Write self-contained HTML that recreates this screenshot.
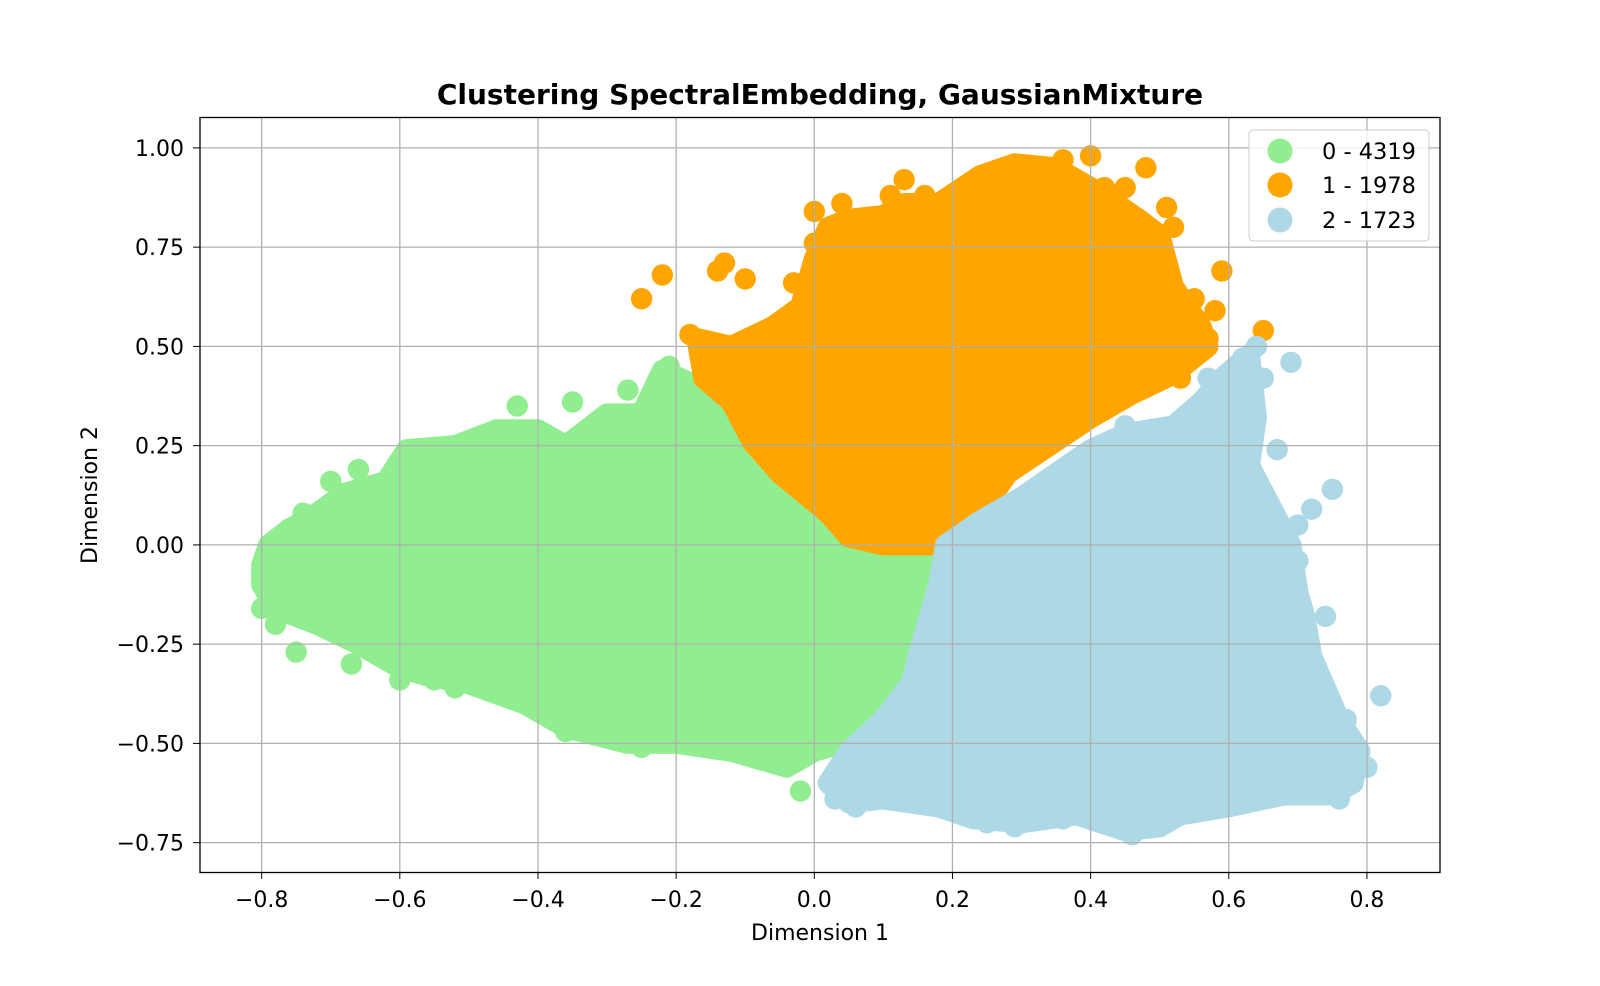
<!DOCTYPE html>
<html><head><meta charset="utf-8"><style>
body{margin:0;background:#fff;}
svg text{font-family:"DejaVu Sans","Liberation Sans",sans-serif;}
</style></head><body>
<svg id="chart" width="1600" height="981" xmlns="http://www.w3.org/2000/svg">
<text x="820" y="104" text-anchor="middle" font-size="28" font-weight="bold">Clustering SpectralEmbedding, GaussianMixture</text>
<g id="marks"></g>
<g id="grid"></g>
<rect x="200" y="117.5" width="1240" height="755" fill="none" stroke="#000" stroke-width="1.3"/>
<g id="ticks"></g>
<text x="820" y="940" text-anchor="middle" font-size="22">Dimension 1</text>
<text transform="translate(97,495) rotate(-90)" text-anchor="middle" font-size="22">Dimension 2</text>
<g>
<rect x="1249" y="130" width="180" height="111" rx="4" fill="#fff" fill-opacity="0.8" stroke="#ccc"/>
<circle cx="1280" cy="151" r="12.5" fill="#90ee90"/><text x="1322" y="159" font-size="22.5">0 - 4319</text>
<circle cx="1280" cy="185" r="12.5" fill="#ffa500"/><text x="1322" y="193" font-size="22.5">1 - 1978</text>
<circle cx="1280" cy="220" r="12.5" fill="#add8e6"/><text x="1322" y="228" font-size="22.5">2 - 1723</text>
</g>
</svg>
<script>
const xTicks=[-0.8,-0.6,-0.4,-0.2,0.0,0.2,0.4,0.6,0.8];
const xTickLabels=["−0.8","−0.6","−0.4","−0.2","0.0","0.2","0.4","0.6","0.8"];
const yTicks=[-0.75,-0.5,-0.25,0,0.25,0.5,0.75,1.0];
const yTickLabels=["−0.75","−0.50","−0.25","0.00","0.25","0.50","0.75","1.00"];
const clusterNames=["cluster-0","cluster-1","cluster-2"];
const clusterColors=["#90ee90","#ffa500","#add8e6"];
const hull0=[[-0.80,-0.05],[-0.79,0.0],[-0.76,0.04],[-0.72,0.08],[-0.68,0.13],[-0.62,0.16],[-0.59,0.24],[-0.52,0.25],[-0.46,0.29],[-0.40,0.29],[-0.36,0.25],[-0.30,0.33],[-0.25,0.33],[-0.22,0.44],[-0.17,0.40],[-0.12,0.30],[-0.06,0.20],[0.0,0.12],[0.05,0.06],[0.10,0.02],[0.17,0.0],[0.18,-0.1],[0.16,-0.25],[0.13,-0.38],[0.08,-0.48],[0.0,-0.52],[-0.04,-0.56],[-0.12,-0.52],[-0.2,-0.50],[-0.27,-0.50],[-0.36,-0.46],[-0.42,-0.40],[-0.5,-0.35],[-0.56,-0.33],[-0.6,-0.31],[-0.66,-0.25],[-0.72,-0.20],[-0.78,-0.16],[-0.80,-0.10]];
const hull1=[[-0.17,0.52],[-0.12,0.5],[-0.06,0.55],[-0.02,0.60],[0.0,0.72],[0.02,0.80],[0.05,0.82],[0.1,0.83],[0.13,0.86],[0.18,0.86],[0.24,0.93],[0.29,0.96],[0.35,0.95],[0.38,0.92],[0.42,0.88],[0.47,0.82],[0.50,0.78],[0.52,0.65],[0.56,0.55],[0.57,0.5],[0.52,0.43],[0.46,0.38],[0.40,0.32],[0.34,0.25],[0.28,0.18],[0.24,0.08],[0.17,0.0],[0.1,0.0],[0.05,0.02],[0.02,0.08],[-0.05,0.18],[-0.09,0.26],[-0.12,0.36],[-0.16,0.42]];
const hull2=[[0.19,0.0],[0.24,0.06],[0.30,0.12],[0.35,0.18],[0.40,0.24],[0.45,0.28],[0.52,0.3],[0.56,0.36],[0.59,0.42],[0.63,0.48],[0.64,0.32],[0.63,0.2],[0.66,0.1],[0.69,0.0],[0.70,-0.12],[0.71,-0.18],[0.72,-0.28],[0.74,-0.36],[0.76,-0.44],[0.79,-0.52],[0.78,-0.6],[0.75,-0.63],[0.68,-0.63],[0.6,-0.66],[0.53,-0.68],[0.5,-0.71],[0.45,-0.72],[0.38,-0.68],[0.3,-0.7],[0.23,-0.69],[0.18,-0.66],[0.1,-0.64],[0.05,-0.65],[0.02,-0.6],[0.05,-0.52],[0.1,-0.44],[0.14,-0.35],[0.16,-0.22],[0.18,-0.1]];
const points0=[[-0.80,-0.16],[-0.78,-0.2],[-0.75,-0.27],[-0.6,-0.34],[-0.55,-0.34],[-0.52,-0.36],[-0.25,-0.51],[-0.02,-0.62],[-0.35,0.36],[-0.43,0.35],[-0.66,0.19],[-0.7,0.16],[-0.76,0.04],[-0.74,0.08],[-0.27,0.39],[-0.21,0.45],[-0.67,-0.3],[-0.36,-0.47],[-0.08,-0.52]];
const points1=[[-0.25,0.62],[-0.22,0.68],[-0.13,0.71],[-0.14,0.69],[-0.1,0.67],[-0.03,0.66],[0.48,0.95],[0.40,0.98],[0.59,0.69],[0.65,0.54],[0.51,0.85],[0.04,0.86],[0.13,0.92],[0.16,0.88],[-0.18,0.53],[0.11,0.88],[0.36,0.97],[0.45,0.9],[0.42,0.9],[0.52,0.8],[0.55,0.62],[0.58,0.59],[0.57,0.52],[0.53,0.42],[-0.06,0.55],[0.0,0.76],[0.0,0.84],[0.03,0.63],[0.08,0.78],[0.5,0.65]];
const points2=[[0.82,-0.38],[0.75,0.14],[0.72,0.09],[0.69,0.46],[0.64,0.5],[0.67,0.24],[0.80,-0.56],[0.76,-0.64],[0.46,-0.73],[0.50,-0.71],[0.29,-0.71],[0.61,0.31],[0.7,-0.04],[0.7,0.05],[0.74,-0.18],[0.77,-0.44],[0.62,0.47],[0.65,0.42],[0.45,0.3],[0.57,0.42],[0.25,-0.7],[0.36,-0.69],[0.64,-0.63],[0.03,-0.64],[0.06,-0.66]];
const hulls=[hull0,hull1,hull2];
const pts=[points0,points1,points2];
const X0=814.3,XS=690.8,Y0=544.9,YS=397;
function sx(v){return X0+v*XS;}
function sy(v){return Y0-v*YS;}
const NS="http://www.w3.org/2000/svg";
const marks=document.getElementById('marks');
for(let c=0;c<3;c++){
  const g=document.createElementNS(NS,'g');
  
  
  const p=document.createElementNS(NS,'polygon');
  
  
  p.setAttribute('points',hulls[c].map(d=>sx(d[0])+','+sy(d[1])).join(' '));
  p.setAttribute('fill',clusterColors[c]);p.setAttribute('stroke',clusterColors[c]);
  p.setAttribute('stroke-width','21');p.setAttribute('stroke-linejoin','round');
  g.appendChild(p);
  pts[c].forEach(d=>{
    const ci=document.createElementNS(NS,'circle');
    
    
    ci.setAttribute('cx',sx(d[0]));ci.setAttribute('cy',sy(d[1]));ci.setAttribute('r',10.7);
    ci.setAttribute('fill',clusterColors[c]);
    g.appendChild(ci);
  });
  marks.appendChild(g);
}
const grid=document.getElementById('grid'),ticks=document.getElementById('ticks');
xTicks.forEach((v,i)=>{
  const x=sx(v);
  const l=document.createElementNS(NS,'line');
  
  
  l.setAttribute('x1',x);l.setAttribute('x2',x);l.setAttribute('y1',117);l.setAttribute('y2',872);
  l.setAttribute('stroke','#b0b0b0');l.setAttribute('stroke-width','1.3');grid.appendChild(l);
  const t=document.createElementNS(NS,'line');
  
  
  t.setAttribute('x1',x);t.setAttribute('x2',x);t.setAttribute('y1',872);t.setAttribute('y2',879);t.setAttribute('stroke','#000');ticks.appendChild(t);
  const tx=document.createElementNS(NS,'text');
  
  
  tx.setAttribute('x',x);tx.setAttribute('y',907);tx.setAttribute('text-anchor','middle');tx.setAttribute('font-size','22');
  tx.textContent=xTickLabels[i];ticks.appendChild(tx);
});
yTicks.forEach((v,i)=>{
  const y=sy(v);
  const l=document.createElementNS(NS,'line');
  
  
  l.setAttribute('x1',200);l.setAttribute('x2',1440);l.setAttribute('y1',y);l.setAttribute('y2',y);
  l.setAttribute('stroke','#b0b0b0');l.setAttribute('stroke-width','1.3');grid.appendChild(l);
  const t=document.createElementNS(NS,'line');
  
  
  t.setAttribute('x1',193);t.setAttribute('x2',200);t.setAttribute('y1',y);t.setAttribute('y2',y);t.setAttribute('stroke','#000');ticks.appendChild(t);
  const tx=document.createElementNS(NS,'text');
  
  
  tx.setAttribute('x',184);tx.setAttribute('y',y+8);tx.setAttribute('text-anchor','end');tx.setAttribute('font-size','22');
  tx.textContent=yTickLabels[i];ticks.appendChild(tx);
});
</script>
</body></html>
